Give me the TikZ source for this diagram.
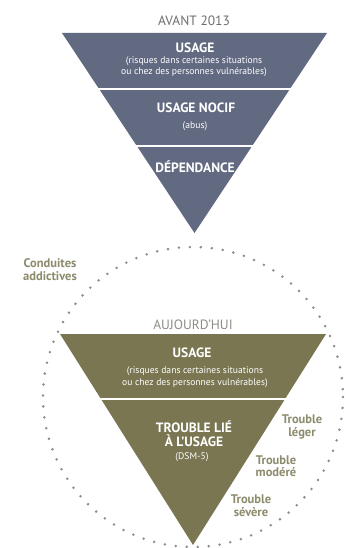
\documentclass[tikz,border=0pt]{standalone}
\usepackage{fontspec}
\setmainfont{PT Sans}
\usetikzlibrary{calc}
\definecolor{slate}{HTML}{626A82}
\definecolor{olive}{HTML}{797651}
\definecolor{olivetxt}{HTML}{8C8B6C}
\definecolor{graytxt}{HTML}{6E6E6E}
\definecolor{dotcol}{HTML}{8E8E88}
\tikzset{
  head/.style={text=white, font=\fontsize{13.5}{14.5}\selectfont\bfseries, inner sep=0pt, align=center},
  sub/.style={text=white, font=\fontsize{9.6}{11.5}\selectfont, inner sep=0pt, align=center},
  title/.style={font=\fontsize{13.5}{13.5}\selectfont, inner sep=0pt},
  side/.style={text=olivetxt, font=\fontsize{12.5}{12.5}\selectfont\bfseries, inner sep=0pt, align=center},
  divider/.style={white, line width=2.2pt}
}
\begin{document}
\begin{tikzpicture}[x=1pt,y=-1pt]
\useasboundingbox (0,0) rectangle (346,548);
\fill[white] (0,0) rectangle (346,548);
% dotted circle
\coordinate (cc) at (193,397);
\foreach \a in {0,4.2,...,359} {
  \fill[dotcol] ($(cc)+(\a:150)$) circle (1.4);
}
% top triangle
\fill[slate] (62,33) -- (327,33) -- (194.5,233) -- cycle;
\draw[divider] (80,89) -- (310,89);
\draw[divider] (120,146) -- (270,146);
% bottom triangle
\fill[olive] (60,334) -- (326,334) -- (193,545) -- cycle;
\draw[divider] (80,399) -- (305,399);
% texts top
\node[title, text=graytxt] (avant) at (194,21) {AVANT 2013};
\node[head] (u1) at (195,48) {USAGE};
\node[sub] (u1s) at (194,66.5) {(risques dans certaines situations\\ou chez des personnes vulnérables)};
\node[head] (nocif) at (196,108) {USAGE NOCIF};
\node[sub] (abus) at (195,126) {(abus)};
\node[head] (dep) at (195,167) {DÉPENDANCE};
% texts bottom
\node[side] (cond) at (50,269.5) {Conduites\\addictives};
\node[title, text=dotcol] (auj) at (193,325) {AUJOURD'HUI};
\node[head] (u2) at (192,353) {USAGE};
\node[sub] (u2s) at (195,377) {(risques dans certaines situations\\ou chez des personnes vulnérables)};
\node[head] (tl) at (194,433.5) {TROUBLE LIÉ\\À L'USAGE};
\node[sub] (dsm) at (192,457) {(DSM-5)};
\node[side] (leger) at (302,427) {Trouble\\léger};
\node[side] (modere) at (276,466) {Trouble\\modéré};
\node[side] (severe) at (251,505.5) {Trouble\\sévère};
\end{tikzpicture}
\end{document}
